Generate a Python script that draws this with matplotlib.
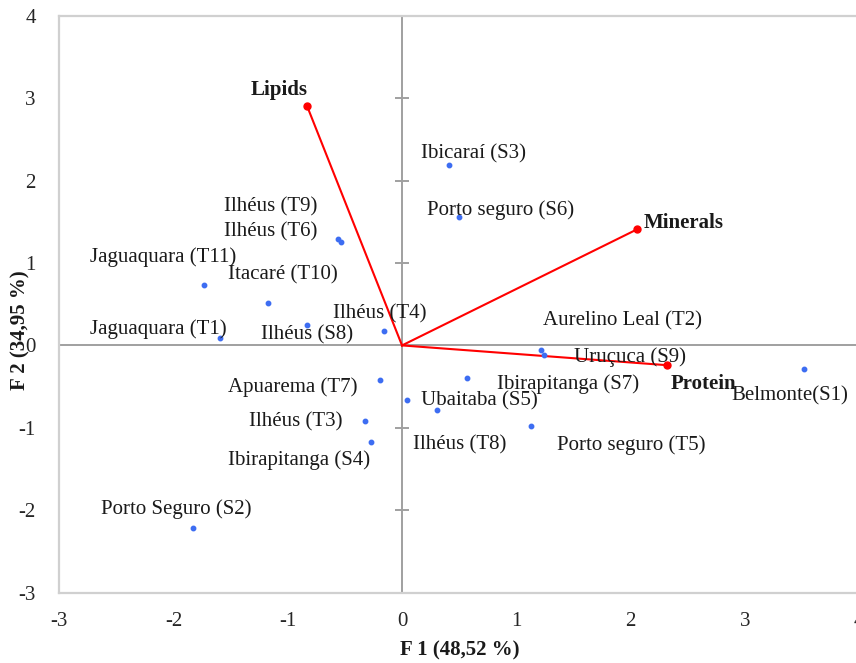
import matplotlib
matplotlib.use("Agg")
import matplotlib.pyplot as plt
import numpy as np

# ---- data ----
obs_labels = ["Ibicaraí (S3)", "Porto seguro (S6)", "Ilhéus (T9)", "Ilhéus (T6)",
              "Jaguaquara (T11)", "Itacaré (T10)", "Ilhéus (S8)", "Ilhéus (T4)",
              "Jaguaquara (T1)", "Apuarema (T7)", "Ilhéus (T3)", "Ibirapitanga (S4)",
              "Porto Seguro (S2)", "Ubaitaba (S5)", "Ilhéus (T8)", "Ibirapitanga (S7)",
              "Aurelino Leal (T2)", "Uruçuca (S9)", "Porto seguro (T5)", "Belmonte(S1)"]
obs_f1 = [0.41, 0.50, -0.56, -0.53, -1.73, -1.17, -0.83, -0.16, -1.59, -0.19,
          -0.32, -0.27, -1.83, 0.04, 0.31, 0.57, 1.22, 1.24, 1.13, 3.52]
obs_f2 = [2.19, 1.56, 1.29, 1.26, 0.73, 0.51, 0.25, 0.17, 0.09, -0.42,
          -0.92, -1.17, -2.21, -0.66, -0.78, -0.39, -0.05, -0.12, -0.98, -0.29]

var_labels = ["Lipids", "Minerals", "Protein"]
var_f1 = [-0.83, 2.06, 2.32]
var_f2 = [2.90, 1.41, -0.24]

xticks = [-3, -2, -1, 0, 1, 2, 3, 4]
yticks = [-3, -2, -1, 0, 1, 2, 3, 4]
xlabel = "F 1 (48,52 %)"
ylabel = "F 2 (34,95 %)"

# ---- label offsets (pixels, text left edge / vertical centre relative to point) ----
obs_offsets = [(-28, 11), (-32, 7), (-114, 32), (-117, 10), (-114, 28), (-40, 29),
               (-46, -10), (-51, 18), (-130, 9), (-152, -7), (-116, -1), (-143, -18),
               (-92, 18), (14, -1), (-24, -35), (30, -7), (2, 29), (30, -2),
               (26, -19), (-73, -27)]
var_offsets = [(-57, 16), (6, 6), (4, -19)]

plt.rcParams['font.family'] = ['Liberation Serif', 'DejaVu Serif']
plt.rcParams['axes.unicode_minus'] = False

fig = plt.figure(figsize=(8.56, 6.63), dpi=100)
ax = fig.add_axes([59.3 / 856, 70.3 / 663, (859 - 59.3) / 856, (592.7 - 15.7) / 663])
ax.set_xlim(-3, 4)
ax.set_ylim(-3, 4)

for s in ax.spines.values():
    s.set_color('#d0d0d0')
    s.set_linewidth(1.6)

ax.set_xticks(xticks)
ax.set_yticks(yticks)
ax.tick_params(length=0, labelsize=15, labelcolor='#262626', pad=14)
ax.tick_params(axis='y', pad=17)

# zero lines with cross ticks on vertical axis
zc = '#a0a0a0'
ax.axhline(0, color=zc, lw=1.4, zorder=1)
ax.axvline(0, color=zc, lw=1.4, zorder=1)
ax.plot(np.zeros(len(yticks)), yticks, linestyle='none', marker='_',
        markersize=10, markeredgewidth=1.4, color=zc, zorder=1, clip_on=False)

# variable vectors
for vx, vy in zip(var_f1, var_f2):
    ax.plot([0, vx], [0, vy], color='#ff0000', lw=1.5, zorder=3)
ax.plot(var_f1, var_f2, 'o', color='#ff0000', markersize=5, zorder=4)

# observations
ax.plot(obs_f1, obs_f2, 'o', color='#3d6df2', markersize=3.2, zorder=5)

for lab, x, y, (dx, dy) in zip(obs_labels, obs_f1, obs_f2, obs_offsets):
    ax.annotate(lab, (x, y), xytext=(dx, dy), textcoords='offset pixels',
                ha='left', va='center', fontsize=15, color='#1a1a1a', zorder=6)
for lab, x, y, (dx, dy) in zip(var_labels, var_f1, var_f2, var_offsets):
    ax.annotate(lab, (x, y), xytext=(dx, dy), textcoords='offset pixels',
                ha='left', va='center', fontsize=15, fontweight='bold',
                color='#1a1a1a', zorder=6)

fig.text(460 / 856, 1 - 650 / 663, xlabel, ha='center', va='center',
         fontsize=15, fontweight='bold', color='#1a1a1a')
fig.text(20 / 856, 1 - 330 / 663, ylabel, ha='center', va='center', rotation=90,
         fontsize=15, fontweight='bold', color='#1a1a1a')

fig.savefig('out.png', dpi=100)
